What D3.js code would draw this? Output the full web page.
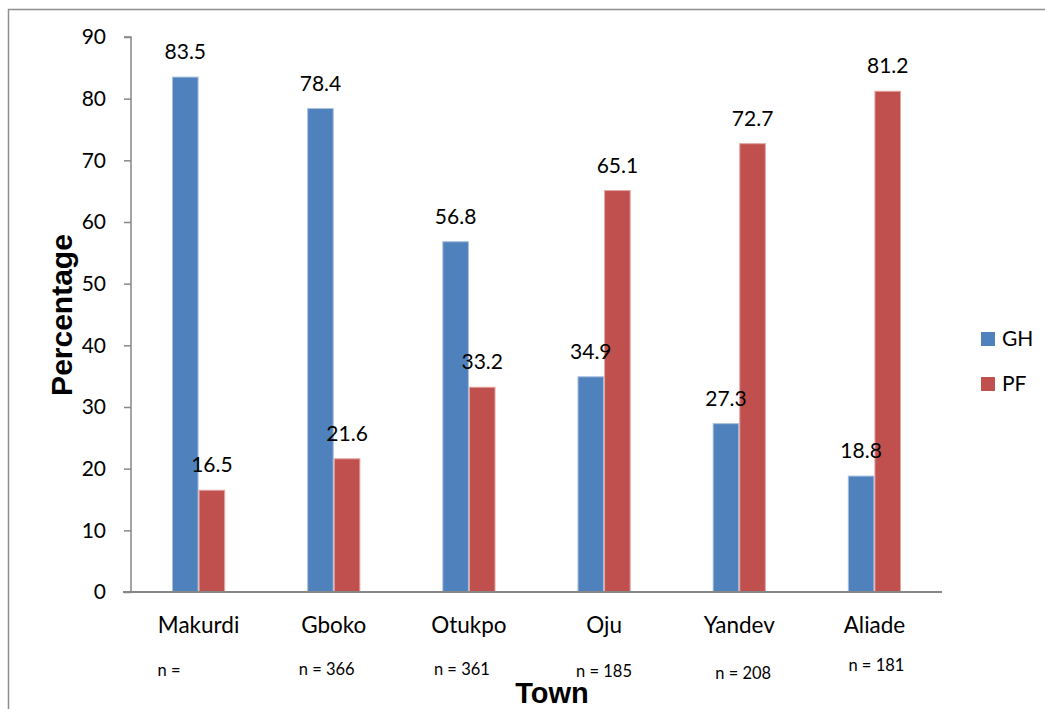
<!DOCTYPE html>
<html>
<head>
<meta charset="utf-8">
<script src="https://cdn.jsdelivr.net/npm/d3@7"></script>
<style>
  html, body { margin: 0; padding: 0; background: #ffffff; }
  svg { display: block; }
</style>
</head>
<body>
<svg id="chart" width="1045" height="709"></svg>
<script>
// Towns surveyed and share of respondents (%) per group
const towns = ["Makurdi", "Gboko", "Otukpo", "Oju", "Yandev", "Aliade"];
const seriesNames = ["GH", "PF"];
const ghValues = [83.5, 78.4, 56.8, 34.9, 27.3, 18.8];
const pfValues = [16.5, 21.6, 33.2, 65.1, 72.7, 81.2];
const sampleSizes = ["n =", "n = 366", "n = 361", "n = 185", "n = 208", "n = 181"];
const yTicks = [0, 10, 20, 30, 40, 50, 60, 70, 80, 90];

// Layout tweaks for the sample-size notes under each town (dx, dy)
const noteNudges = [[-41, 0], [-35, -1], [-35, -1], [-28, 1], [-24, 3], [-26, -5]];

const colors = { GH: "#4F81BD", PF: "#C0504D" };
const edge = { GH: "#a9c0de", PF: "#e3a4a2" };
const axisColor = "#878787";
const labelFont = "Lato, 'Open Sans', sans-serif";

const svg = d3.select("#chart");

// outer frame (only its top and left edges fall inside the view)
svg.append("path")
  .attr("d", "M8.5,709 V9.5 H1045")
  .attr("fill", "none")
  .attr("stroke", "#8f8f8f")
  .attr("stroke-width", 1.5);

const plot = { left: 131, right: 942, top: 37, bottom: 592 };

const x = d3.scaleBand().domain(towns).range([plot.left, plot.right]).padding(0);
const y = d3.scaleLinear().domain([0, 90]).range([plot.bottom, plot.top]);
const barW = 26.6;
const xs = d3.scaleBand().domain(seriesNames).range([-barW, barW]).padding(0);

const rows = towns.map((t, i) => ({ town: t, GH: ghValues[i], PF: pfValues[i], n: sampleSizes[i], i }));

// bars
const groups = svg.append("g").selectAll("g")
  .data(rows).join("g")
  .attr("transform", d => `translate(${x(d.town) + x.bandwidth() / 2},0)`);

groups.selectAll("rect")
  .data(d => seriesNames.map(s => ({ s, v: d[s] })))
  .join("rect")
  .attr("x", d => xs(d.s) + 0.5)
  .attr("width", xs.bandwidth() - 1)
  .attr("y", d => y(d.v))
  .attr("height", d => y(0) - y(d.v))
  .attr("fill", d => colors[d.s])
  .attr("stroke", d => edge[d.s])
  .attr("stroke-width", 1);

// value labels above each bar
groups.selectAll("text.val")
  .data(d => seriesNames.map(s => ({ s, v: d[s] })))
  .join("text")
  .attr("class", "val")
  .attr("x", d => xs(d.s) + xs.bandwidth() / 2)
  .attr("y", d => y(d.v) - 18)
  .attr("text-anchor", "middle")
  .attr("font-family", labelFont)
  .attr("font-size", 21)
  .attr("fill", "#000")
  .text(d => d.v.toFixed(1));

// y axis
const yAxis = d3.axisLeft(y).tickValues(yTicks).tickSize(7).tickPadding(18).tickFormat(d3.format("d"));
const gy = svg.append("g").attr("transform", `translate(${plot.left},0)`).call(yAxis);
gy.select(".domain").attr("stroke", axisColor).attr("stroke-width", 1.5)
  .attr("d", `M-7,${plot.top}H0V${plot.bottom}`);
gy.selectAll(".tick line").attr("stroke", axisColor).attr("stroke-width", 1.5);
gy.selectAll(".tick text")
  .attr("font-family", labelFont).attr("font-size", 21).attr("fill", "#000");

// x axis
const xAxis = d3.axisBottom(x).tickSize(0).tickPadding(25);
const gx = svg.append("g").attr("transform", `translate(0,${plot.bottom})`).call(xAxis);
gx.select(".domain").attr("stroke", axisColor).attr("stroke-width", 2)
  .attr("d", `M${plot.left - 8},0H${plot.right}`);
gx.selectAll(".tick text")
  .attr("font-family", labelFont).attr("font-size", 22.5).attr("fill", "#000")
  .attr("dy", "0.71em");

// sample-size notes
svg.append("g").selectAll("text")
  .data(rows).join("text")
  .attr("x", d => x(d.town) + x.bandwidth() / 2 + noteNudges[d.i][0])
  .attr("y", d => 676 + noteNudges[d.i][1])
  .attr("font-family", labelFont)
  .attr("font-size", 16.5)
  .attr("fill", "#000")
  .text(d => d.n);

// axis titles
svg.append("text")
  .attr("transform", "translate(72,315) rotate(-90)")
  .attr("text-anchor", "middle")
  .attr("font-family", "'Liberation Sans', Arial, sans-serif")
  .attr("font-weight", "bold")
  .attr("font-size", 30)
  .text("Percentage");

svg.append("text")
  .attr("x", 552).attr("y", 703)
  .attr("text-anchor", "middle")
  .attr("font-family", "'Liberation Sans', Arial, sans-serif")
  .attr("font-weight", "bold")
  .attr("font-size", 29)
  .text("Town");

// legend
const legend = svg.append("g").selectAll("g")
  .data(seriesNames).join("g")
  .attr("transform", (d, i) => `translate(981,${332 + i * 45})`);
legend.append("rect")
  .attr("width", 14).attr("height", 14)
  .attr("fill", d => colors[d]);
legend.append("text")
  .attr("x", 21).attr("y", 14)
  .attr("font-family", labelFont).attr("font-size", 21).attr("fill", "#000")
  .text(d => d);
</script>
</body>
</html>
